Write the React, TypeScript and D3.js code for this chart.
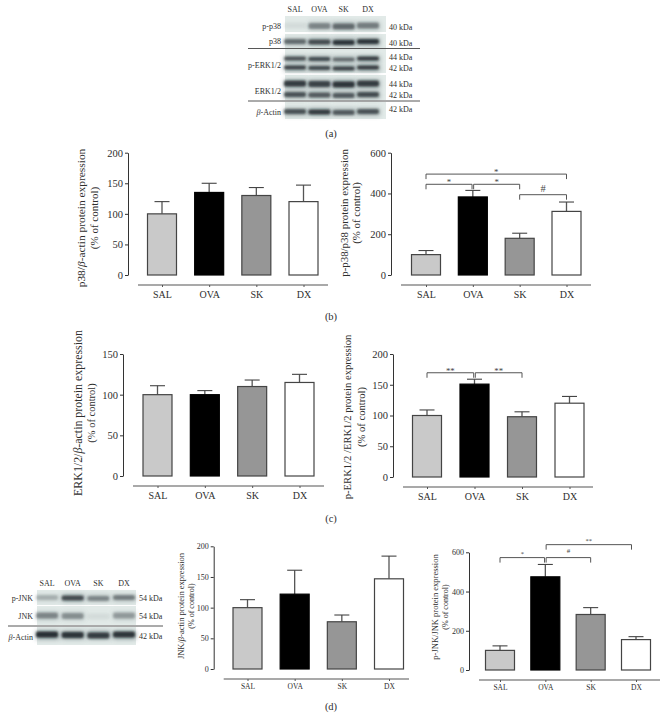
import { useEffect, useRef } from 'react';
import * as d3 from 'd3';

const GROUPS = ['SAL', 'OVA', 'SK', 'DX'];
const FILLS = ['#c9c9c9', '#000000', '#969696', '#ffffff'];
const SERIF = '"Liberation Serif", serif';
const INK = '#2e2e2e';

// bar means and the top of each error bar
const p38Mean = [100, 135, 130, 120];
const p38Top = [120, 150, 143, 147];
const pP38Mean = [100, 383, 180, 312];
const pP38Top = [120, 415, 205, 358];
const erkMean = [100, 100, 110, 115];
const erkTop = [111, 105, 118, 125];
const pErkMean = [100, 151, 98, 120];
const pErkTop = [109, 159, 106, 131];
const jnkMean = [100, 122, 77, 147];
const jnkTop = [113, 161, 88, 184];
const pJnkMean = [100, 475, 283, 155];
const pJnkTop = [123, 538, 318, 170];

const ticks200 = [0, 50, 100, 150, 200];
const ticks150 = [0, 50, 100, 150];
const ticks600 = [0, 200, 400, 600];

// significance brackets, level is in axis units
const pP38Brackets = [
  { from: 'SAL', to: 'DX', level: 495, label: '*' },
  { from: 'SAL', to: 'OVA', level: 445, label: '*' },
  { from: 'OVA', to: 'SK', level: 445, label: '*' },
  { from: 'SK', to: 'DX', level: 394, label: '#' },
];
const pErkBrackets = [
  { from: 'SAL', to: 'OVA', level: 169.5, label: '**' },
  { from: 'OVA', to: 'SK', level: 169.5, label: '**' },
];
const pJnkBrackets = [
  { from: 'OVA', to: 'DX', level: 639, label: '**', nudge: -4.5 },
  { from: 'SAL', to: 'OVA', level: 573, label: '*' },
  { from: 'OVA', to: 'SK', level: 573, label: '#' },
];

// western blot band strength per lane (0 to 1)
const pP38Bands = [0.05, 0.45, 0.6, 0.5];
const p38Bands = [0.6, 0.8, 0.95, 0.95];
const pErk44Bands = [0.75, 0.8, 0.6, 0.9];
const pErk42Bands = [0.85, 0.8, 0.85, 0.9];
const erk44Bands = [0.9, 0.85, 0.95, 0.9];
const erk42Bands = [0.75, 0.7, 0.7, 0.8];
const actinBands = [0.75, 0.9, 0.7, 0.75];
const pJnkBands = [0.25, 0.8, 0.45, 0.5];
const jnkBands = [0.45, 0.4, 0.05, 0.35];
const actinBandsD = [1, 0.95, 0.9, 0.95];

function addTitle(sel: any, text: string, x: number, y: number, size: number) {
  const t = sel.append('text')
    .attr('transform', `translate(${x},${y}) rotate(-90)`)
    .attr('text-anchor', 'middle')
    .attr('font-size', size)
    .attr('fill', INK);
  text.split('β').forEach((part, i) => {
    if (i > 0) t.append('tspan').attr('font-style', 'italic').text('β');
    t.append('tspan').text(part);
  });
}

function BarPanel({ means, tops, ticks, max, brackets = [], box, titles, fontSize = 10 }: any) {
  const ref = useRef<SVGGElement>(null);

  useEffect(() => {
    const g = d3.select(ref.current);
    g.selectAll('*').remove();

    const large = fontSize > 9;
    const y = d3.scaleLinear().domain([0, max]).range([box.y0, box.yMax]);
    const x = d3.scalePoint().domain(GROUPS).range([box.first, box.last]);
    const barW = 29;
    const base = box.y0 + 10;

    // y axis
    const yAxis = g.append('g')
      .attr('transform', `translate(${box.axisX},0)`)
      .call(d3.axisLeft(y).tickValues(ticks).tickSize(3).tickPadding(2).tickSizeOuter(0));
    yAxis.selectAll('text').attr('font-family', SERIF).attr('font-size', fontSize + 0.5).attr('fill', INK);
    yAxis.selectAll('line').attr('stroke', '#333');
    yAxis.select('.domain').attr('stroke', '#333');

    // x axis, its line runs past the first and last tick
    const xAxis = g.append('g')
      .attr('transform', `translate(0,${base})`)
      .call(d3.axisBottom(x).tickSize(2).tickPadding(large ? 4 : 3));
    xAxis.select('.domain').remove();
    xAxis.selectAll('text').attr('font-family', SERIF).attr('font-size', fontSize).attr('fill', INK);
    xAxis.selectAll('line').attr('stroke', '#555');
    g.append('line')
      .attr('x1', box.axisX + 10).attr('x2', box.lineEnd)
      .attr('y1', base).attr('y2', base)
      .attr('stroke', '#555').attr('stroke-width', 1.1);

    GROUPS.forEach((name, i) => {
      const cx = x(name) as number;
      // error bar behind the bar
      g.append('line').attr('x1', cx).attr('x2', cx)
        .attr('y1', y(means[i])).attr('y2', y(tops[i]))
        .attr('stroke', '#555').attr('stroke-width', 1.3);
      g.append('line').attr('x1', cx - 7.5).attr('x2', cx + 7.5)
        .attr('y1', y(tops[i])).attr('y2', y(tops[i]))
        .attr('stroke', '#444').attr('stroke-width', 1.1);
      g.append('rect')
        .attr('x', cx - barW / 2).attr('width', barW)
        .attr('y', y(means[i])).attr('height', y(0) - y(means[i]))
        .attr('fill', FILLS[i])
        .attr('stroke', i === 1 ? '#000' : '#444')
        .attr('stroke-width', 1.2);
    });

    brackets.forEach((b: any) => {
      const x1 = (x(b.from) as number) + (b.from === 'OVA' ? 0.8 : 0);
      const x2 = (x(b.to) as number) + (b.nudge || 0) - (b.to === 'OVA' ? 0.8 : 0);
      const ly = y(b.level);
      const isHash = b.label === '#';
      g.append('path')
        .attr('d', d3.line()([[x1, ly + 5], [x1, ly], [x2, ly], [x2, ly + 5]]))
        .attr('fill', 'none').attr('stroke', '#555').attr('stroke-width', 1);
      // the star glyph sits high in its line, so it goes lower than the hash
      const labelSize = large ? (isHash ? 10.5 : 8.8) : (isHash ? 7 : 6.5);
      const labelY = large ? (isHash ? ly - 3 : ly + 1) : (isHash ? ly - 5 : ly - 1.6);
      g.append('text')
        .attr('x', (x1 + x2) / 2)
        .attr('y', labelY)
        .attr('text-anchor', 'middle')
        .attr('font-size', labelSize)
        .attr('fill', '#444')
        .text(b.label);
    });

    titles.forEach((t: any) => addTitle(g, t.text, t.x, t.y, t.size));
  }, [means, tops, ticks, max, brackets, box, titles, fontSize]);

  return <g ref={ref} fontFamily={SERIF} />;
}

function Blot({ lanes, panels, bands, names, weights, rules, idPrefix }: any) {
  const x = d3.scalePoint().domain(GROUPS).range(lanes.range);
  const fontSize = 8;
  return (
    <g fontFamily={SERIF} fontSize={fontSize} fill={INK}>
      <defs>
        <filter id={`${idPrefix}-blur`} x="-30%" y="-150%" width="160%" height="400%">
          <feGaussianBlur stdDeviation="1.3" />
        </filter>
        <filter id={`${idPrefix}-haze`} x="-40%" y="-200%" width="180%" height="500%">
          <feGaussianBlur stdDeviation="2.6" />
        </filter>
      </defs>
      {panels.map((p: any, i: number) => (
        <rect key={i} x={lanes.left} y={p[0]} width={lanes.right - lanes.left} height={p[1] - p[0]} fill="#e2eae8" />
      ))}
      {bands.map((b: any, i: number) =>
        GROUPS.map((g, j) => (
          <g key={`${i}-${g}`}>
            <rect
              x={(x(g) as number) - 11}
              y={b.y - b.h / 2 - 1}
              width={23}
              height={b.h + 2}
              fill="#3c5056"
              opacity={weights[i][j] * 0.55}
              filter={`url(#${idPrefix}-haze)`}
            />
            <rect
              x={(x(g) as number) - 11}
              y={b.y - b.h / 2 + ((j * 7) % 3) * 0.5 - 0.5}
              width={22}
              height={b.h}
              rx={2}
              fill="#141e20"
              opacity={weights[i][j] * 0.85}
              filter={`url(#${idPrefix}-blur)`}
            />
          </g>
        ))
      )}
      {GROUPS.map(g => (
        <text key={g} x={x(g) as number} y={lanes.headY} textAnchor="middle">{g}</text>
      ))}
      {names.map((n: any) => {
        const parts = n.text.split('β');
        return (
          <text key={n.text} x={lanes.left - 4} y={n.y} textAnchor="end">
            {parts.length > 1 && <tspan fontStyle="italic">β</tspan>}
            {parts[parts.length - 1]}
          </text>
        );
      })}
      {bands.map((b: any, i: number) => (
        <text key={i} x={lanes.right + 3} y={b.ky} textAnchor="start">{b.kda}</text>
      ))}
      {rules.map((r: any, i: number) => (
        <line key={i} x1={lanes.ruleFrom} x2={lanes.ruleTo} y1={r} y2={r} stroke="#444" strokeWidth={0.9} />
      ))}
    </g>
  );
}

const captions = [
  { text: '(a)', y: 137 },
  { text: '(b)', y: 320 },
  { text: '(c)', y: 522 },
  { text: '(d)', y: 710 },
];

export default function App() {
  return (
    <svg width={667} height={728} style={{ position: 'absolute', left: 0, top: 0, background: '#fff' }}>
      <Blot
        idPrefix="a"
        lanes={{ range: [295, 368], left: 285, right: 386, headY: 12, ruleFrom: 248, ruleTo: 420 }}
        panels={[[16, 32], [34, 48], [49, 73], [75, 100], [102, 119]]}
        names={[
          { text: 'p-p38', y: 29 },
          { text: 'p38', y: 44 },
          { text: 'p-ERK1/2', y: 68 },
          { text: 'ERK1/2', y: 94 },
          { text: 'β-Actin', y: 115 },
        ]}
        weights={[pP38Bands, p38Bands, pErk44Bands, pErk42Bands, erk44Bands, erk42Bands, actinBands]}
        bands={[
          { y: 26, h: 6, kda: '40 kDa', ky: 30 },
          { y: 42, h: 5, kda: '40 kDa', ky: 46 },
          { y: 59, h: 4, kda: '44 kDa', ky: 60 },
          { y: 68, h: 4, kda: '42 kDa', ky: 71 },
          { y: 84, h: 6, kda: '44 kDa', ky: 87 },
          { y: 95, h: 5, kda: '42 kDa', ky: 98 },
          { y: 112, h: 5, kda: '42 kDa', ky: 112 },
        ]}
        rules={[48.5, 101]}
      />
      <Blot
        idPrefix="d"
        lanes={{ range: [47, 124], left: 37, right: 136, headY: 586, ruleFrom: 8, ruleTo: 163 }}
        panels={[[590, 605], [606, 625], [627, 645]]}
        names={[
          { text: 'p-JNK', y: 601 },
          { text: 'JNK', y: 619 },
          { text: 'β-Actin', y: 640 },
        ]}
        weights={[pJnkBands, jnkBands, actinBandsD]}
        bands={[
          { y: 598, h: 5, kda: '54 kDa', ky: 601 },
          { y: 616, h: 6, kda: '54 kDa', ky: 619 },
          { y: 635, h: 6, kda: '42 kDa', ky: 639 },
        ]}
        rules={[626]}
      />

      <BarPanel
        means={p38Mean} tops={p38Top} ticks={ticks200} max={200}
        box={{ axisX: 128, y0: 275, yMax: 152.7, first: 162, last: 303.5, lineEnd: 328 }}
        titles={[
          { text: 'p38/β-actin protein expression', x: 85, y: 218, size: 11.4 },
          { text: '(% of control)', x: 98, y: 218, size: 11 },
        ]}
      />
      <BarPanel
        means={pP38Mean} tops={pP38Top} ticks={ticks600} max={600} brackets={pP38Brackets}
        box={{ axisX: 391, y0: 275, yMax: 152.7, first: 426, last: 566.5, lineEnd: 591 }}
        titles={[
          { text: 'p-p38/p38 protein expression', x: 348, y: 213, size: 10.9 },
          { text: '(% of control)', x: 360, y: 213, size: 10.9 },
        ]}
      />
      <BarPanel
        means={erkMean} tops={erkTop} ticks={ticks150} max={150}
        box={{ axisX: 123, y0: 476, yMax: 354, first: 157.5, last: 299.5, lineEnd: 324 }}
        titles={[
          { text: 'ERK1/2/β-actin protein expression', x: 82, y: 413, size: 11.9 },
          { text: '(% of control)', x: 95, y: 413, size: 10.5 },
        ]}
      />
      <BarPanel
        means={pErkMean} tops={pErkTop} ticks={ticks200} max={200} brackets={pErkBrackets}
        box={{ axisX: 393, y0: 477, yMax: 354, first: 427, last: 569.5, lineEnd: 593 }}
        titles={[
          { text: 'p-ERK1/2 /ERK1/2 protein expression', x: 351, y: 417, size: 10.6 },
          { text: '(% of control)', x: 365, y: 417, size: 10.6 },
        ]}
      />
      <BarPanel
        means={jnkMean} tops={jnkTop} ticks={ticks200} max={200} fontSize={7.5}
        box={{ axisX: 213.7, y0: 669, yMax: 546.3, first: 247.5, last: 389, lineEnd: 409 }}
        titles={[
          { text: 'JNK/β-actin protein expression', x: 184, y: 606, size: 8.5 },
          { text: '(% of control)', x: 194, y: 606, size: 8 },
        ]}
      />
      <BarPanel
        means={pJnkMean} tops={pJnkTop} ticks={ticks600} max={600} brackets={pJnkBrackets} fontSize={7.5}
        box={{ axisX: 469, y0: 670, yMax: 552.3, first: 500, last: 636, lineEnd: 660 }}
        titles={[
          { text: 'p-JNK/JNK protein expression', x: 438, y: 607, size: 8.5 },
          { text: '(% of control)', x: 448, y: 607, size: 8 },
        ]}
      />

      {captions.map(c => (
        <text key={c.text} x={331} y={c.y} textAnchor="middle" fontFamily={SERIF} fontSize={10.5} fill={INK}>
          {c.text}
        </text>
      ))}
    </svg>
  );
}
